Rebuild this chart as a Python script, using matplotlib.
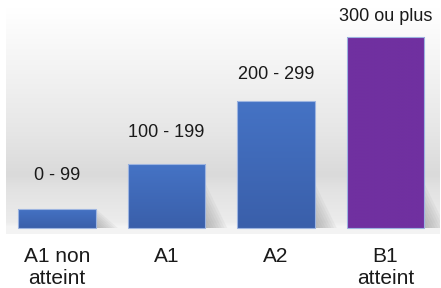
import numpy as np
import matplotlib
matplotlib.use("Agg")
import matplotlib.pyplot as plt
from matplotlib.colors import LinearSegmentedColormap
from matplotlib.patches import Polygon

categories = ["A1 non\natteint", "A1", "A2", "B1\natteint"]
values = [30, 100, 200, 300]
range_labels = ["0 - 99", "100 - 199", "200 - 299", "300 ou plus"]
label_offsets = [24, 23, 18.5, 14.5]  # points above bar top
top_colors = ["#4573c5", "#4573c5", "#4573c5", "#7030a0"]
bottom_colors = ["#3a5faa", "#3a5faa", "#3a5faa", "#7030a0"]

plt.rcParams['font.family'] = ['Liberation Sans', 'DejaVu Sans']

fig = plt.figure(figsize=(4.41, 2.88), dpi=100)
fig.patch.set_facecolor('white')
ax = fig.add_axes([6/441, 54/288, 434/441, 226/288])
ax.set_xlim(-0.466, 3.498)
ax.set_ylim(-9.4, 345.5)

# background gradient
stops = [(0.0, '#f3f3f3'), (0.03, '#f4f4f4'), (0.05, '#ececec'), (0.2, '#e2e2e2'),
         (0.26, '#dadada'), (0.45, '#e6e6e6'), (0.75, '#f4f4f4'), (1.0, '#ffffff')]
bg_cmap = LinearSegmentedColormap.from_list('bg', stops)
grad = np.linspace(0, 1, 256).reshape(-1, 1)
ax.imshow(grad, cmap=bg_cmap, aspect='auto', extent=[0, 1, 0, 1],
          transform=ax.transAxes, origin='lower', zorder=0)

x = np.arange(len(categories))
width = 0.71
bars = ax.bar(x, values, width=width, color='none', edgecolor='#9db4e0',
              linewidth=0.8, zorder=3)

for i, b in enumerate(bars):
    x0, w, h = b.get_x(), b.get_width(), b.get_height()
    # soft floor shadow to the right
    sh = min(h, 70)
    for k in range(8):
        f = 1 - k / 8
        poly = Polygon([[x0 + w, 0], [x0 + w, sh * f], [x0 + w + 0.2 * f, 0]],
                       closed=True, facecolor='#808080', edgecolor='none',
                       alpha=0.08, zorder=2)
        ax.add_patch(poly)
    cmap = LinearSegmentedColormap.from_list('b%d' % i, [bottom_colors[i], top_colors[i]])
    im = ax.imshow(grad, cmap=cmap, aspect='auto', extent=[x0, x0 + w, 0, h],
                   origin='lower', zorder=2.5)
    im.set_clip_path(b)
    ax.annotate(range_labels[i], (b.get_x() + w / 2, h), xytext=(0, label_offsets[i]),
                textcoords='offset points', ha='center', va='center', fontsize=13,
                color='#1a1a1a', zorder=4)

ax.set_xlim(-0.466, 3.498)
ax.set_ylim(-9.4, 345.5)
ax.set_xticks(x)
ax.set_xticklabels(categories, fontsize=15, color='#1a1a1a', linespacing=1.2)
ax.tick_params(axis='x', length=0, pad=9)
ax.set_yticks([])
for s in ax.spines.values():
    s.set_visible(False)

fig.savefig('out.png', dpi=100, facecolor='white')
